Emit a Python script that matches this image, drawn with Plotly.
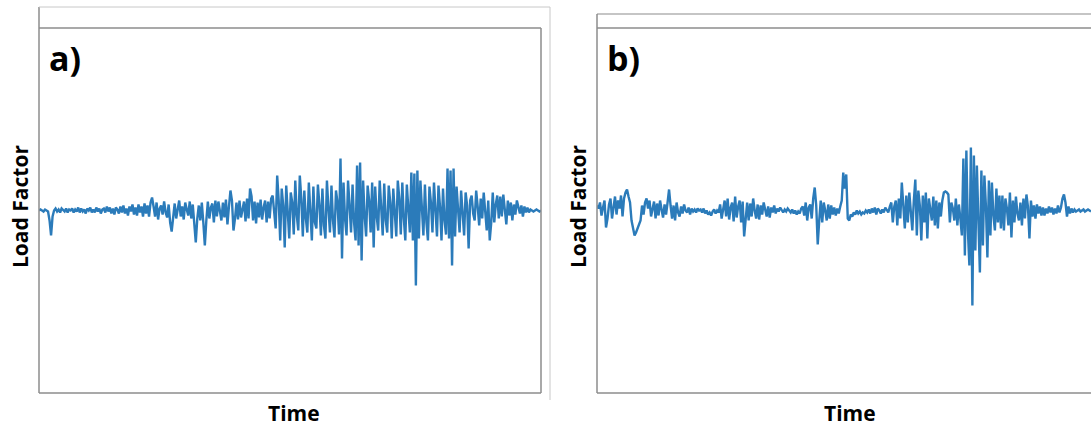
import numpy as np
import plotly.graph_objects as go

# ─── Data (load factor offsets from the mean) ────────────────────────────────
LOAD_A = [
    0, 1, 0, -1, 1, 0, -1, -10, -25,
    -6, 0, 2, -1, 1, -2, 2, 0, -1, 2, -2, 1, 0, 2, -2, 1, -1, 3, -2, 2, -1, 1,
    -3, 2, 0, 3, -2, 1, -2, 3, -1, 2, -3, 1, 2, -2, 4, -1, 3, -3, 2, -4, 3, 1,
    -3, 4, -2, 5, -3, 2, -5, 4, -1, 6, -4, 3, -5, 6, -2, 4, -6, 7, -3, 5, -6,
    8,
    13, 4, -6, 8, -9, 2, 5, -4, 9, -2, -7, 6, -12, -21, -5, 7, -8, 3, 10, -6,
    4, -9, 8, 1, -5, 9, -8, 6, -15, -32, -8, 5, -10, 8, -12, -35, -10, 9, -8,
    3, 7, -12, 10, -6, 9, -3, -10, 8, -7, 11, -14, 4, 20, 10, -20, -8, 8, -9,
    10, -7, 2, 9, -11, 12, -8, 22, 14, -10, 9, -13, 8, -7, 11, -9, 3, 10, -12,
    9, -8, 12,
    15, -5, -18, 35, 10, -30, 22, 5, -37, 25, -10, -28, 18, 8, -24, 30, -5,
    -20, 35, 12, -26, 20, -8, -22, 28, 3, -30, 24, -12, -18, 26, 6, -25, 22,
    -15, -28, 30, 2, -22, 25, -10, -27, 20, 8, -24, 52, -48, 28, -8, -25, 30,
    5, -22, 26, -12, -30, 45, -35, 48, -50, 30, -5, -26, 25, 10, -22, 28, -37,
    24, -6, -20, 30, 4, -25, 27, -10, -22, 25, 8, -28, 22, -4, -26, 30, 12,
    -24, 28, -8, -30, 26, 5, -22, 38, -30, 37, -75, 40, -28, 30, 6, -25, 26,
    -12, -30, 24, 8, -22, 28, -6, -26, 25, 4, -30, 22, -10, -24, 42, -28, 40,
    -55, 42, -26, 24, 3, -22, 20, -8, -25, 18, 5, -38, 10,
    15, -3, -10, 20, 4, -15, 12, -8, 18, 2, -20, 10, -30, -12, 18, -12, 6, 15,
    -8, 14, -6, 16, 3, -14, 10, -5, 8, -10, 6, -4, 10, 2, -3, 5, -6, 4, -2, 3,
    -2, 1, 0, -1, 0, 1, 0, -1, 0,
]

LOAD_B = [
    5, 2, 8, -5, 3, 10, -17, -8, 6, 12, -8, 4, 14, -4, 10, 2, 15, -6, 12, 18,
    21, 14, 8, -10, -20, -25, -22, -18, -12,
    -10, 5, -4, 8, 12, 2, 10, -6, 3, 9, -8, 7, -5, 10, 1, -7, 6, -4, 8, 21, 5,
    -8, 5, -10, 8, -2, -6, 4, -3, 6, 0, -2, 3, -4, 2, -1, 1, -2, 2, 0,
    1, -2, 2, -3, 0, -4, -2, -5, -1, 1, -3, 0, -2,
    6, -8, 2, 10, -6, 12, -9, 3, 8, -11, 14, -7, 4, 10, -12, 9, -26, -5, 8,
    -10, 7, -6, 12, 0, -8, 6, -9, 5, -4, 8, 2, -6, 4, -7, 3, -2, 5, -3, 2, -1,
    3, 0, -2, 1, -1, 2, 0,
    -2, 1, -3, 0, -4, -1, -3, 2, 4, -5, 8, -10, 3, 6, -8, 12, 23, 5, -34, -10,
    10, -12, 8, 0, -10, 6, -8, 5, -4, 3, -5, 2, -3, 4, 10, 38, 22, 36, -8, -10,
    -4, -6, -2, -4, 0, -3, -1, -4, -2, -3, 0, -2, 1, -3, 2, -2, 3, -4, 2, 0,
    -3, 1, -2, 3, 0, -2, 4,
    8, -12, 4, 10, -15, 12, -8, 28, 6, -18, 15, -12, 18, 2, -20, 10, 31, -25,
    20, 5, -30, 15, -12, 18, -28, 12, 0, -10, 14, -15, 10, -18, 8, -6, 10, 18,
    19, 18, 16, -12, 8, 2, -10, 12, -15, 6, -8,
    -25, 52, -45, 60, -20, -55, 63, -95, 55, -40, 45, -10, -62, 40, -35, 35,
    5, -47, 30, -25, 28, -5, -20, 22, -12, 15, -18,
    15, -20, 12, 2, -15, 18, -27, 10, -12, 14, -3, -10, 8, -15, 12, -8, 16, 4,
    -28, 10, -6, 5, -8, 6, -3, 4, -5,
    3, -5, 2, -3, 4, -2, 3, -4, 2, -3, 5, -2, 3, 12, 16, 8, -6, 4, -3, 2, -2,
    1, -1, 0, 1, -1, 0, 1, -1, 0, 1, 0, -1,
]

PANEL_LABELS = ["a)", "b)"]
Y_TITLE = "Load Factor"
X_TITLE = "Time"

# ─── Layout geometry (pixels of a 1091 x 432 page) ───────────────────────────
W, H = 1091, 432
LINE_COLOR = "#2b7bba"
BOX_COLOR = "#8c8c8c"
FRAME_COLOR = "#c8c8c8"
FONT = "Open Sans"


def px(x):
    return x / W


def py(y):
    return 1 - y / H


fig = go.Figure()

for i, vals in enumerate([LOAD_A, LOAD_B]):
    fig.add_trace(
        go.Scatter(
            x=np.arange(len(vals)),
            y=vals,
            mode="lines",
            line=dict(color=LINE_COLOR, width=2.4),
            xaxis="x" if i == 0 else "x2",
            yaxis="y" if i == 0 else "y2",
            showlegend=False,
            hoverinfo="skip",
        )
    )

axis_common = dict(showgrid=False, zeroline=False, showticklabels=False,
                   ticks="", showline=False)
fig.update_layout(
    width=W,
    height=H,
    margin=dict(l=0, r=0, t=0, b=0),
    paper_bgcolor="white",
    plot_bgcolor="white",
    xaxis=dict(domain=[px(39), px(541)], range=[0, len(LOAD_A) - 1],
               anchor="y", **axis_common),
    yaxis=dict(domain=[py(393), py(28)], range=[-182.5, 182.5],
               anchor="x", **axis_common),
    xaxis2=dict(domain=[px(597), 1.0], range=[0, len(LOAD_B) - 1],
                anchor="y2", **axis_common),
    yaxis2=dict(domain=[py(393), py(28)], range=[-182.5, 182.5],
                anchor="x2", **axis_common),
)


# plot boxes and outer chart frames
def seg(x0, y0, x1, y1, color, width):
    fig.add_shape(type="line", xref="paper", yref="paper",
                  x0=px(x0), y0=py(y0), x1=px(x1), y1=py(y1),
                  line=dict(color=color, width=width))


# panel a
seg(39, 7, 39, 393, BOX_COLOR, 1.5)
seg(39, 28, 541, 28, BOX_COLOR, 1.5)
seg(541, 28, 541, 393, BOX_COLOR, 1.5)
seg(39, 393, 541, 393, BOX_COLOR, 1.5)
seg(39, 7, 550, 7, FRAME_COLOR, 1)
seg(550, 7, 550, 400, FRAME_COLOR, 1)
# panel b (right edge cut off)
seg(597, 14, 597, 393, BOX_COLOR, 1.5)
seg(597, 14, W, 14, BOX_COLOR, 1.2)
seg(597, 28, W, 28, BOX_COLOR, 1.5)
seg(597, 393, W, 393, BOX_COLOR, 1.5)

for label, xl, yt_x in [(PANEL_LABELS[0], 47, 20), (PANEL_LABELS[1], 605, 578)]:
    fig.add_annotation(text=label, xref="paper", yref="paper",
                       x=px(xl), y=py(58), xanchor="left", yanchor="middle",
                       showarrow=False,
                       font=dict(family=FONT, size=34, color="black",
                                 weight="bold"))
    fig.add_annotation(text=Y_TITLE, xref="paper", yref="paper",
                       x=px(yt_x), y=py(207), textangle=-90,
                       xanchor="center", yanchor="middle", showarrow=False,
                       font=dict(family=FONT, size=21, color="black",
                                 weight="bold"))

for xc in [294, 850]:
    fig.add_annotation(text=X_TITLE, xref="paper", yref="paper",
                       x=px(xc), y=py(413), xanchor="center",
                       yanchor="middle", showarrow=False,
                       font=dict(family=FONT, size=21, color="black",
                                 weight="bold"))

fig.write_html("out.html", config={"displayModeBar": False},
               post_script="document.body.style.margin='0';")
